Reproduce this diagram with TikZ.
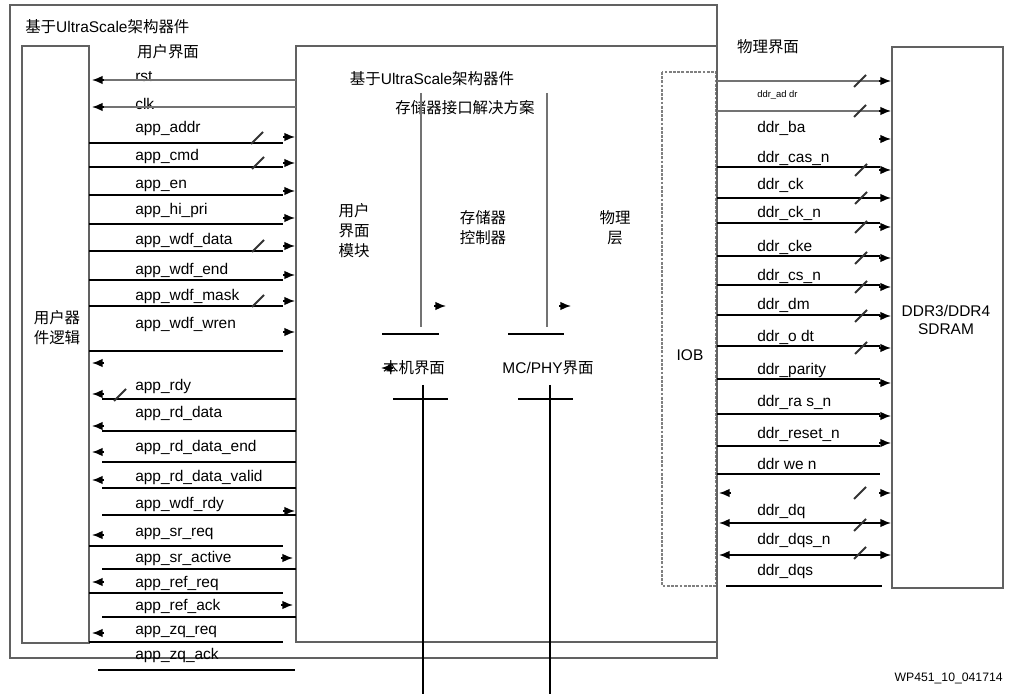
\documentclass[tikz,border=0pt]{standalone}
\usepackage{fontspec}
\setmainfont{Liberation Sans}
\newfontfamily\cjk{Noto Sans CJK SC}
\usepackage{tikz}
\usetikzlibrary{arrows.meta,positioning}
\tikzstyle{frame} = [draw=black!62, line width=1.3pt]
\tikzstyle{sig} = [draw=black, line width=2.1pt]
\tikzstyle{gsig} = [draw=black!55, line width=1.3pt]
\tikzstyle{tipr} = [draw=black, line width=1pt, -{Latex[length=7.5pt,width=6pt]}]
\tikzstyle{bus} = [draw=black!80, line width=1.3pt]
\tikzstyle{lbl} = [anchor=west, inner sep=0pt, font=\fontsize{11}{13}\selectfont]
\tikzstyle{zh} = [inner sep=0pt, align=center, font=\cjk\fontsize{11}{14.2}\selectfont]
\newcommand{\arright}[2]{\draw[tipr] (#1-12,#2) -- (#1,#2);}
\newcommand{\arleft}[2]{\draw[tipr] (#1+12,#2) -- (#1,#2);}
\newcommand{\busmark}[2]{\draw[bus] (#1-6,#2+6) -- (#1+6,#2-6);}

\begin{document}
\begin{tikzpicture}[x=0.025cm,y=-0.025cm]
			\useasboundingbox (0,0) rectangle (1015,694);
			% boxes
			\coordinate (B1a) at (10,5);    \coordinate (B1b) at (717,658);
			\coordinate (B2a) at (296,46);  \coordinate (B2b) at (717,642);
			\coordinate (B3a) at (22,46);   \coordinate (B3b) at (89,643);
			\coordinate (B4a) at (662,72);  \coordinate (B4b) at (716,586);
			\coordinate (B5a) at (892,47);  \coordinate (B5b) at (1003,588);
			\draw[frame, draw=black!50, dash pattern=on 2pt off 1pt] (B4a) rectangle (B4b);
			\draw[frame] (B1a) rectangle (B1b);
			\draw[frame] (B2a) rectangle (B2b);
			\draw[frame] (B3a) rectangle (B3b);
			\draw[frame] (B5a) rectangle (B5b);
			% titles
			\node[lbl, name=T01] at (25,27) {{\cjk 基于}UltraScale{\cjk 架构器件}};
			\node[zh, name=T02] at (168,52) {用户界面};
			\node[zh, name=T03] at (768,47) {物理界面};
			\node[lbl, anchor=center, name=T04] at (432,79) {{\cjk 基于}UltraScale{\cjk 架构器件}};
			\node[zh, name=T05] at (465,108) {存储器接口解决方案};
			\node[zh, name=T06] at (57,328) {用户器\\件逻辑};
			\node[zh, name=T07] at (354,231) {用户\\界面\\模块};
			\node[zh, name=T08] at (483,228) {存储器\\控制器};
			\node[zh, name=T09] at (615,228) {物理\\层};
			\node[lbl, anchor=center, name=T10] at (690,355) {IOB};
			\node[lbl, anchor=center, align=center, font=\fontsize{11}{12.5}\selectfont, name=T11] at (946,320) {DDR3/DDR4\\SDRAM};
			\node[lbl, anchor=east, font=\fontsize{8.7}{10}\selectfont, name=T12] at (1003,678) {WP451\_10\_041714};
			% middle
			\draw[gsig] (421,93) -- (421,327);
			\draw[gsig] (547,93) -- (547,327);
			\arright{446}{306}
			\arright{571}{306}
			\draw[sig] (382,334) -- (439,334);
			\draw[sig] (508,334) -- (564,334);
			\node[zh, name=M01] at (414,368) {本机界面};
			\node[lbl, anchor=center, name=M02] at (548,368) {MC/PHY{\cjk 界面}};
			\arleft{381}{368}
			\draw[sig] (393,399) -- (448,399);
			\draw[sig] (423,385) -- (423,694);
			\draw[sig] (518,399) -- (573,399);
			\draw[sig] (550,385) -- (550,694);
			% user interface
			\node[lbl, name=L01] at (135,77) {rst};
			\draw[gsig] (296,80) -- (100,80); \arleft{92}{80}
			\node[lbl, name=L02] at (135,104) {clk};
			\draw[gsig] (296,107) -- (100,107); \arleft{92}{107}
			\node[lbl, name=L03] at (135,129) {app\_addr};
			\draw[sig] (89,143) -- (283,143); \busmark{257}{138} \arright{295}{137}
			\node[lbl, name=L04] at (135,157) {app\_cmd};
			\draw[sig] (89,167) -- (283,167); \busmark{258}{163} \arright{295}{163}
			\node[lbl, name=L05] at (135,186) {app\_en};
			\draw[sig] (89,195) -- (283,195); \arright{295}{191}
			\node[lbl, name=L06] at (135,211) {app\_hi\_pri};
			\draw[sig] (89,224) -- (283,224); \arright{295}{218}
			\node[lbl, name=L07] at (135,241) {app\_wdf\_data};
			\draw[sig] (89,251) -- (283,251); \busmark{258}{246} \arright{295}{246}
			\node[lbl, name=L08] at (135,271) {app\_wdf\_end};
			\draw[sig] (89,280) -- (283,280); \arright{295}{275}
			\node[lbl, name=L09] at (135,297) {app\_wdf\_mask};
			\draw[sig] (89,306) -- (283,306); \busmark{258}{301} \arright{295}{301}
			\node[lbl, name=L10] at (135,325) {app\_wdf\_wren};
			\draw[sig] (89,351) -- (283,351); \arright{295}{332}
			\arleft{92}{363}
			\node[lbl, name=L11] at (135,387) {app\_rdy};
			\draw[sig] (102,399) -- (296,399); \busmark{120}{395} \arleft{92}{394}
			\node[lbl, name=L12] at (135,414) {app\_rd\_data};
			\draw[sig] (102,431) -- (296,431); \arleft{92}{426}
			\node[lbl, name=L13] at (135,448) {app\_rd\_data\_end};
			\draw[sig] (102,462) -- (296,462); \arleft{92}{452}
			\node[lbl, name=L14] at (135,478) {app\_rd\_data\_valid};
			\draw[sig] (102,488) -- (296,488); \arleft{92}{480}
			\node[lbl, name=L15] at (135,505) {app\_wdf\_rdy};
			\draw[sig] (102,515) -- (296,515); \arright{295}{511}
			\node[lbl, name=L16] at (135,534) {app\_sr\_req};
			\draw[sig] (89,546) -- (283,546); \arleft{92}{535}
			\node[lbl, name=L17] at (135,559) {app\_sr\_active};
			\draw[sig] (102,569) -- (296,569); \arright{293}{558}
			\node[lbl, name=L18] at (135,584) {app\_ref\_req};
			\draw[sig] (89,593) -- (283,593); \arleft{92}{582}
			\node[lbl, name=L19] at (135,607) {app\_ref\_ack};
			\draw[sig] (102,617) -- (296,617); \arright{293}{605}
			\node[lbl, name=L20] at (135,632) {app\_zq\_req};
			\draw[sig] (89,642) -- (283,642); \arleft{92}{633}
			\node[lbl, name=L21] at (135,656) {app\_zq\_ack};
			\draw[sig] (98,670) -- (295,670);
			% physical interface
			\draw[gsig] (717,81) -- (880,81); \busmark{860}{81} \arright{891}{81}
			\node[lbl, font=\fontsize{6.7}{8}\selectfont, name=R01] at (757,95) {ddr\_ad dr};
			\draw[gsig] (717,111) -- (880,111); \busmark{860}{111} \arright{891}{111}
			\node[lbl, name=R02] at (757,128) {ddr\_ba};
			\arright{891}{139}
			\node[lbl, name=R03] at (757,158) {ddr\_cas\_n};
			\draw[sig] (717,167) -- (880,167); \busmark{861}{170} \arright{891}{170}
			\node[lbl, name=R04] at (757,185) {ddr\_ck};
			\draw[sig] (717,198) -- (880,198); \busmark{861}{198} \arright{891}{198}
			\node[lbl, name=R05] at (757,213) {ddr\_ck\_n};
			\draw[sig] (717,223) -- (880,223); \busmark{861}{227} \arright{891}{227}
			\node[lbl, name=R06] at (757,247) {ddr\_cke};
			\draw[sig] (717,256) -- (880,256); \busmark{861}{258} \arright{891}{258}
			\node[lbl, name=R07] at (757,276) {ddr\_cs\_n};
			\draw[sig] (717,285) -- (880,285); \busmark{861}{287} \arright{891}{287}
			\node[lbl, name=R08] at (757,305) {ddr\_dm};
			\draw[sig] (717,315) -- (880,315); \busmark{861}{316} \arright{891}{316}
			\node[lbl, name=R09] at (757,337) {ddr\_o dt};
			\draw[sig] (717,346) -- (880,346); \busmark{861}{348} \arright{891}{348}
			\node[lbl, name=R10] at (757,371) {ddr\_parity};
			\draw[sig] (717,379) -- (880,379); \arright{891}{383}
			\node[lbl, name=R11] at (757,402) {ddr\_ra s\_n};
			\draw[sig] (717,414) -- (880,414); \arright{891}{416}
			\node[lbl, name=R12] at (757,434) {ddr\_reset\_n};
			\draw[sig] (717,446) -- (880,446); \arright{891}{443}
			\node[lbl, name=R13] at (757,464) {ddr we n};
			\draw[sig] (717,474) -- (880,474);
			\arleft{719}{493} \busmark{860}{493} \arright{891}{493}
			\node[lbl, name=R14] at (757,512) {ddr\_dq};
			\draw[sig] (722,523) -- (880,523); \arleft{719}{523} \busmark{860}{525} \arright{891}{523}
			\node[lbl, name=R15] at (757,541) {ddr\_dqs\_n};
			\draw[sig] (722,555) -- (880,555); \arleft{719}{555} \busmark{860}{553} \arright{891}{555}
			\node[lbl, name=R16] at (757,572) {ddr\_dqs};
			\draw[sig] (726,586) -- (882,586);
\end{tikzpicture}
\end{document}
